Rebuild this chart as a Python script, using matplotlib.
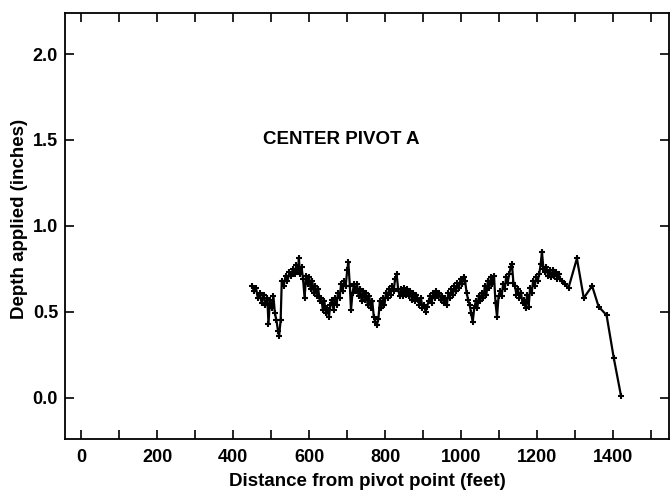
import matplotlib.pyplot as plt
from matplotlib.ticker import MultipleLocator

# distancia (pes) e lamina aplicada (polegadas)
dist = [450, 455, 460, 465, 470, 475, 480, 485, 490, 493, 497, 502, 506, 510, 514, 518, 521, 525,
        528, 533, 538, 543, 548, 553, 557, 562, 566, 570, 573, 576, 580, 584, 588, 592, 596, 600,
        604, 608, 612, 616, 620, 624, 628, 632, 636, 640, 644, 648, 652, 656, 660, 664, 668, 672,
        676, 680, 684, 688, 692, 696, 700, 703, 707, 710, 714, 718, 722, 726, 730, 734, 738, 742,
        746, 750, 754, 758, 762, 766, 770, 774, 778, 782, 786, 790, 794, 798, 802, 806, 810, 814,
        818, 822, 826, 830, 834, 838, 842, 846, 850, 854, 858, 862, 866, 870, 874, 878, 882, 886,
        890, 894, 898, 902, 906, 910, 914, 918, 922, 926, 930, 934, 938, 942, 946, 950, 954, 958,
        962, 966, 970, 974, 978, 982, 986, 990, 994, 998, 1002, 1006, 1010, 1014, 1018, 1022, 1026,
        1030, 1034, 1038, 1042, 1046, 1050, 1054, 1058, 1062, 1066, 1070, 1074, 1078, 1082, 1086,
        1090, 1094, 1098, 1102, 1106, 1110, 1114, 1118, 1122, 1126, 1130, 1133, 1137, 1141, 1145,
        1149, 1153, 1157, 1161, 1165, 1169, 1173, 1177, 1181, 1185, 1189, 1193, 1197, 1201, 1205,
        1209, 1212, 1216, 1220, 1224, 1228, 1232, 1236, 1240, 1244, 1248, 1252, 1256, 1260, 1266,
        1272, 1282, 1304, 1322, 1344, 1361, 1382, 1401, 1420]
depth = [0.65, 0.62, 0.64, 0.58, 0.61, 0.55, 0.60, 0.54, 0.58, 0.43, 0.57, 0.52, 0.59, 0.49, 0.45, 0.39, 0.36, 0.45,
         0.68, 0.65, 0.71, 0.68, 0.73, 0.71, 0.75, 0.72, 0.77, 0.73, 0.81, 0.72, 0.76, 0.69, 0.58, 0.71, 0.66, 0.70,
         0.63, 0.68, 0.61, 0.65, 0.59, 0.63, 0.56, 0.58, 0.51, 0.56, 0.49, 0.52, 0.47, 0.54, 0.57, 0.51, 0.58, 0.54,
         0.61, 0.58, 0.66, 0.62, 0.68, 0.65, 0.74, 0.79, 0.65, 0.51, 0.61, 0.66, 0.62, 0.66, 0.59, 0.63, 0.56, 0.62,
         0.57, 0.61, 0.54, 0.59, 0.52, 0.56, 0.47, 0.44, 0.42, 0.46, 0.56, 0.52, 0.58, 0.54, 0.61, 0.58, 0.63, 0.60,
         0.65, 0.62, 0.69, 0.72, 0.63, 0.59, 0.63, 0.59, 0.64, 0.60, 0.63, 0.59, 0.62, 0.57, 0.61, 0.56, 0.60, 0.57,
         0.54, 0.58, 0.52, 0.54, 0.50, 0.53, 0.56, 0.59, 0.55, 0.61, 0.58, 0.62, 0.59, 0.61, 0.57, 0.59, 0.55, 0.58,
         0.54, 0.61, 0.58, 0.63, 0.60, 0.65, 0.62, 0.67, 0.64, 0.69, 0.66, 0.70, 0.68, 0.61, 0.57, 0.54, 0.49,
         0.44, 0.52, 0.56, 0.52, 0.59, 0.56, 0.61, 0.58, 0.65, 0.60, 0.68, 0.64, 0.70, 0.66, 0.71,
         0.55, 0.47, 0.59, 0.62, 0.59, 0.66, 0.63, 0.70, 0.67, 0.72, 0.76, 0.78, 0.67, 0.65, 0.60,
         0.63, 0.58, 0.61, 0.55, 0.57, 0.52, 0.60, 0.53, 0.64, 0.61, 0.68, 0.65, 0.70, 0.68, 0.72,
         0.78, 0.85, 0.75, 0.73, 0.76, 0.71, 0.74, 0.70, 0.74, 0.71, 0.73, 0.69, 0.72, 0.69, 0.68,
         0.66, 0.64, 0.81, 0.58, 0.65, 0.53, 0.48, 0.23, 0.01]

xticks_lbl = [0, 200, 400, 600, 800, 1000, 1200, 1400]
yticks_lbl = [0.0, 0.5, 1.0, 1.5, 2.0]

plt.rcParams['font.family'] = ['Liberation Sans', 'DejaVu Sans']
plt.rcParams['font.weight'] = 'bold'

fig = plt.figure(figsize=(6.7, 4.92), dpi=100)
ax = fig.add_axes([0.097, 0.108, 0.902, 0.866])

ax.plot(dist, depth, color='black', linewidth=1.6, marker='+', markersize=4, markeredgewidth=1.5)

ax.text(684, 1.5, 'CENTER PIVOT A', ha='center', va='center', fontsize=13.5, fontweight='bold')

ax.set_xlim(-42, 1547)
ax.set_ylim(-0.24, 2.24)
ax.set_xticks(xticks_lbl)
ax.xaxis.set_minor_locator(MultipleLocator(100))
ax.set_yticks(yticks_lbl)
ax.set_yticklabels([f'{v:.1f}' for v in yticks_lbl])

ax.tick_params(which='both', direction='in', top=True, right=True, length=6.5, width=1.2,
               labelsize=13)
ax.tick_params(axis='x', pad=7)
ax.tick_params(axis='y', pad=5)

for s in ax.spines.values():
    s.set_linewidth(1.3)

ax.set_xlabel('Distance from pivot point (feet)', fontsize=13.5, fontweight='bold', labelpad=5)
ax.set_ylabel('Depth applied (inches)', fontsize=13.5, fontweight='bold')
ax.yaxis.set_label_coords(-0.062, 0.515)

plt.savefig('out.png', dpi=100)
